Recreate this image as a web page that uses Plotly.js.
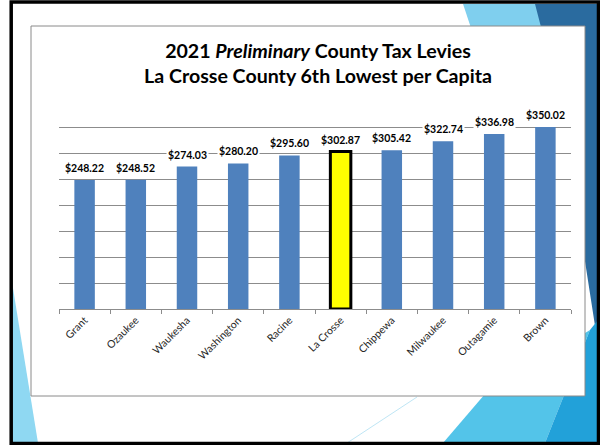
<!DOCTYPE html>
<html>
<head>
<meta charset="utf-8">
<script src="https://cdn.plot.ly/plotly-3.0.1.min.js"></script>
<style>
  html, body { margin: 0; padding: 0; background: #ffffff; }
  #chart { width: 600px; height: 445px; }
</style>
</head>
<body>
<div id="chart"></div>
<script>
const categories = ['Grant', 'Ozaukee', 'Waukesha', 'Washington', 'Racine', 'La Crosse', 'Chippewa', 'Milwaukee', 'Outagamie', 'Brown'];
const values = [248.22, 248.52, 274.03, 280.20, 295.60, 302.87, 305.42, 322.74, 336.98, 350.02];
const valueLabels = ['$248.22', '$248.52', '$274.03', '$280.20', '$295.60', '$302.87', '$305.42', '$322.74', '$336.98', '$350.02'];
const highlighted = 'La Crosse';
const titleLines = ['2021 <i>Preliminary</i> County Tax Levies', 'La Crosse County 6th Lowest per Capita'];
const yMax = 356;

// layout geometry (pixels in the 600x445 picture)
const W = 600, H = 445;
const M = { l: 59, r: 29, t: 124, b: 136 };
const PW = W - M.l - M.r, PH = H - M.t - M.b;
const px = x => (x - M.l) / PW;
const py = y => (H - M.b - y) / PH;
function poly(pts, color) {
  const d = pts.map((p, i) => (i ? 'L' : 'M') + px(p[0]).toFixed(4) + ',' + py(p[1]).toFixed(4)).join(' ') + ' Z';
  return { type: 'path', xref: 'paper', yref: 'paper', path: d, fillcolor: color, line: { width: 0 }, layer: 'below' };
}

const barColors = categories.map(c => c === highlighted ? '#FFFF00' : '#4F81BD');
const lineColors = categories.map(c => c === highlighted ? '#000000' : 'rgba(0,0,0,0)');
const lineWidths = categories.map(c => c === highlighted ? 3 : 0);

const trace = {
  type: 'bar',
  x: categories,
  y: values,
  marker: { color: barColors, line: { color: lineColors, width: lineWidths } },
  hoverinfo: 'x+y',
  cliponaxis: false
};

const annotations = categories.map((c, i) => ({
  x: c, y: values[i], xref: 'x', yref: 'y',
  text: valueLabels[i],
  showarrow: false, yanchor: 'bottom', yshift: 4,
  bgcolor: '#ffffff', borderpad: 1,
  font: { family: 'Lato, sans-serif', size: 10.5, color: '#000000', weight: 700 }
}));

const shapes = [
  poly([[463, 4], [537, 4], [548, 40], [475, 40]], '#7FCFEE'),
  poly([[535, 4], [598, 4], [598, 345], [560, 100]], '#2A6B9F'),
  poly([[443, 443], [485, 394], [590, 330], [545, 443]], '#53C4E9'),
  poly([[545, 443], [590, 330], [598, 320], [598, 443]], '#22A1D9'),
  poly([[12, 282], [38, 443], [12, 443]], '#8FD8F2'),
  { type: 'line', xref: 'paper', yref: 'paper', x0: px(347), y0: py(443), x1: px(417), y1: py(397), line: { color: '#BFE6F5', width: 1 }, layer: 'below' },
  { type: 'rect', xref: 'paper', yref: 'paper', x0: px(31), y0: py(26), x1: px(585), y1: py(396), fillcolor: '#ffffff', line: { color: '#8A8A8A', width: 1 }, layer: 'below' },
  { type: 'rect', xref: 'paper', yref: 'paper', x0: px(11.2), y0: py(2), x1: px(598.5), y1: py(443.5), fillcolor: 'rgba(0,0,0,0)', line: { color: '#000000', width: 3.5 }, layer: 'below' }
];

const layout = {
  width: W, height: H,
  margin: M,
  paper_bgcolor: '#ffffff',
  plot_bgcolor: 'rgba(0,0,0,0)',
  showlegend: false,
  bargap: 0.6,
  title: {
    text: titleLines.join('<br>'),
    xref: 'container', yref: 'container',
    x: 318 / W, xanchor: 'center',
    y: 1 - 58 / H, yanchor: 'middle',
    font: { family: 'Lato, sans-serif', size: 19.6, color: '#000000', weight: 700 }
  },
  xaxis: {
    type: 'category',
    tickangle: -45,
    showline: true, linecolor: '#8C8C8C', linewidth: 1,
    ticks: 'outside', tickson: 'boundaries', ticklen: 4, tickcolor: '#8C8C8C',
    showgrid: false,
    tickfont: { family: 'Lato, sans-serif', size: 10.5, color: '#262626' }
  },
  yaxis: {
    range: [0, yMax],
    dtick: 50, tick0: 0,
    showticklabels: false,
    showgrid: true, gridcolor: '#8C8C8C', gridwidth: 1,
    zeroline: false, showline: false, ticks: ''
  },
  shapes: shapes,
  annotations: annotations
};

Plotly.newPlot('chart', [trace], layout, { displayModeBar: false, staticPlot: true });
</script>
</body>
</html>
